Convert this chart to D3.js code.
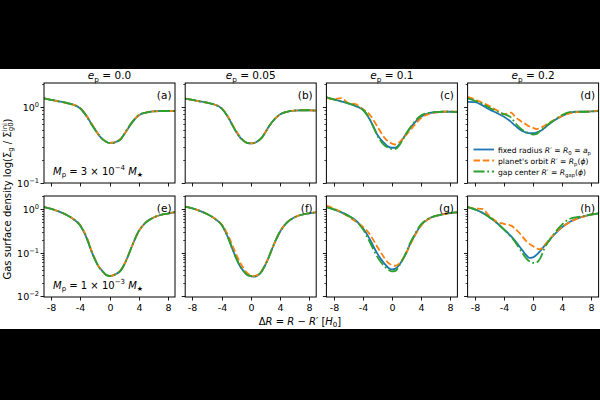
<!DOCTYPE html>
<html><head><meta charset="utf-8">
<script src="https://cdn.jsdelivr.net/npm/d3@7"></script>
<style>body{margin:0;background:#000} text{font-family:"DejaVu Sans",sans-serif;fill:#000}</style>
</head><body><svg id="c" width="600" height="400"></svg>
<script>
// ---- data ----
const xGrid = [-9,-8,-7,-6,-5,-4,-3,-2.5,-2,-1.5,-1,-0.5,0,0.5,1,1.5,2,2.5,3,4,5,6,7,8,9];
const eccLabels = ["0.0","0.05","0.1","0.2"];
const panelLabels = ["(a)","(b)","(c)","(d)","(e)","(f)","(g)","(h)"];
const seriesNames = ["fixed radius","planet's orbit","gap center"];
const xTicks = [-8,-4,0,4,8];
const xTickLabels = ["-8","-4","0","4","8"];
const massMant = ["3","1"];
const massExp = ["\u22124","\u22123"];

const fixedA = [1.29,1.23,1.18,1.13,1.07,0.95,0.72,0.6,0.51,0.43,0.38,0.35,0.335,0.335,0.35,0.37,0.43,0.51,0.6,0.77,0.84,0.87,0.88,0.88,0.88];
const orbitA = [1.29,1.23,1.18,1.12,1.07,0.96,0.73,0.61,0.51,0.43,0.38,0.35,0.335,0.34,0.35,0.38,0.43,0.51,0.61,0.77,0.84,0.87,0.88,0.88,0.88];
const gapA   = [1.29,1.23,1.18,1.13,1.06,0.95,0.71,0.59,0.5,0.43,0.38,0.35,0.335,0.335,0.35,0.37,0.44,0.52,0.61,0.78,0.84,0.87,0.88,0.88,0.88];

const fixedB = [1.28,1.23,1.18,1.13,1.07,0.95,0.7,0.57,0.47,0.4,0.36,0.335,0.33,0.335,0.355,0.39,0.46,0.55,0.64,0.79,0.86,0.89,0.9,0.9,0.89];
const orbitB = [1.28,1.23,1.18,1.13,1.07,0.96,0.71,0.58,0.48,0.41,0.36,0.335,0.33,0.335,0.355,0.39,0.46,0.55,0.64,0.79,0.86,0.89,0.9,0.9,0.89];
const gapB   = [1.28,1.23,1.18,1.13,1.07,0.95,0.7,0.57,0.47,0.4,0.36,0.335,0.33,0.335,0.355,0.39,0.46,0.55,0.64,0.79,0.86,0.89,0.9,0.9,0.89];

const fixedC = [1.33,1.25,1.18,1.11,1.02,0.91,0.67,0.54,0.43,0.37,0.33,0.3,0.29,0.29,0.32,0.38,0.45,0.52,0.6,0.74,0.82,0.85,0.86,0.86,0.85];
const orbitC = [1.33,1.25,1.3,1.12,1.08,0.93,0.78,0.66,0.55,0.46,0.39,0.35,0.33,0.32,0.34,0.38,0.43,0.49,0.56,0.71,0.8,0.84,0.86,0.87,0.86];
const gapC   = [1.33,1.25,1.18,1.11,1.03,0.92,0.68,0.53,0.42,0.35,0.31,0.29,0.28,0.28,0.31,0.37,0.45,0.53,0.62,0.77,0.83,0.85,0.86,0.86,0.85];

const fixedD = [1.16,1.15,1.05,0.92,0.83,0.74,0.63,0.57,0.52,0.48,0.46,0.45,0.45,0.46,0.48,0.52,0.57,0.62,0.67,0.76,0.83,0.86,0.86,0.87,0.88];
const orbitD = [1.35,1.25,1.13,1.02,0.9,0.8,0.84,0.74,0.68,0.63,0.59,0.55,0.53,0.51,0.53,0.56,0.6,0.64,0.68,0.76,0.82,0.85,0.86,0.87,0.89];
const gapD   = [1.29,1.2,1.1,0.97,0.87,0.8,0.72,0.62,0.55,0.5,0.47,0.45,0.43,0.44,0.49,0.53,0.58,0.63,0.68,0.78,0.85,0.86,0.86,0.87,0.88];

const fixedE = [1.13,1.03,0.9,0.76,0.6,0.42,0.19,0.11,0.07,0.048,0.038,0.031,0.029,0.03,0.033,0.038,0.052,0.08,0.13,0.31,0.5,0.64,0.74,0.8,0.86];
const orbitE = [1.13,1.03,0.9,0.76,0.6,0.43,0.2,0.115,0.072,0.049,0.038,0.031,0.029,0.03,0.033,0.039,0.053,0.08,0.13,0.31,0.5,0.64,0.74,0.8,0.86];
const gapE   = [1.13,1.03,0.9,0.76,0.6,0.42,0.19,0.11,0.07,0.048,0.038,0.031,0.029,0.03,0.033,0.038,0.052,0.08,0.13,0.31,0.5,0.64,0.74,0.8,0.86];

const fixedF = [1.15,1.05,0.92,0.78,0.62,0.44,0.2,0.12,0.075,0.05,0.038,0.031,0.029,0.028,0.03,0.037,0.052,0.08,0.13,0.3,0.5,0.65,0.75,0.81,0.85];
const orbitF = [1.15,1.05,0.92,0.78,0.62,0.45,0.23,0.145,0.092,0.061,0.044,0.034,0.03,0.029,0.031,0.038,0.053,0.08,0.13,0.3,0.5,0.65,0.75,0.81,0.85];
const gapF   = [1.15,1.05,0.92,0.78,0.62,0.44,0.2,0.12,0.075,0.05,0.038,0.031,0.029,0.028,0.03,0.037,0.052,0.08,0.13,0.3,0.5,0.65,0.75,0.81,0.85];

const fixedG = [1.13,1.0,0.86,0.72,0.56,0.37,0.2,0.135,0.095,0.071,0.055,0.045,0.041,0.043,0.052,0.07,0.1,0.16,0.23,0.43,0.6,0.7,0.77,0.82,0.85];
const orbitG = [1.22,1.05,0.86,0.68,0.53,0.4,0.26,0.19,0.135,0.1,0.074,0.058,0.052,0.05,0.056,0.072,0.1,0.15,0.22,0.42,0.59,0.7,0.77,0.82,0.85];
const gapG   = [1.13,1.0,0.86,0.71,0.55,0.35,0.17,0.115,0.08,0.06,0.048,0.041,0.037,0.038,0.05,0.07,0.105,0.165,0.24,0.45,0.61,0.71,0.77,0.82,0.85];

const fixedH = [1.13,1.0,0.84,0.66,0.49,0.345,0.237,0.19,0.148,0.115,0.09,0.076,0.078,0.09,0.11,0.14,0.176,0.22,0.27,0.39,0.51,0.61,0.69,0.76,0.81];
const orbitH = [1.13,1.05,1.02,0.7,0.52,0.46,0.42,0.36,0.3,0.24,0.19,0.16,0.14,0.125,0.12,0.145,0.18,0.23,0.28,0.39,0.5,0.6,0.69,0.76,0.81];
const gapH   = [1.13,1.0,0.84,0.66,0.49,0.34,0.23,0.18,0.135,0.1,0.076,0.063,0.058,0.06,0.075,0.12,0.17,0.22,0.29,0.45,0.6,0.66,0.7,0.76,0.81];

const panelSeries = [
  [fixedA,orbitA,gapA],[fixedB,orbitB,gapB],[fixedC,orbitC,gapC],[fixedD,orbitD,gapD],
  [fixedE,orbitE,gapE],[fixedF,orbitF,gapF],[fixedG,orbitG,gapG],[fixedH,orbitH,gapH]
];

// ---- layout / style ----
const colors = ["#1f77b4","#ff7f0e","#2ca02c"];
const dashes = [null,"6.5,2.8","11,2.8,1.8,2.8"];
const lw = 1.8;
const axW = 131, axGap = 10.2, axLeft0 = 44;
const rows = [
  {top:83, bottom:183, domain:[0.1,2.05]},
  {top:196, bottom:297, domain:[0.0095,2.03]}
];

const svg = d3.select("#c");
svg.append("rect").attr("width",600).attr("height",400).attr("fill","#000");
svg.append("rect").attr("y",69).attr("width",600).attr("height",260).attr("fill","#fff");

// rich text helper
function rich(sel, parts){
  let shift = 0;
  parts.forEach(p=>{
    const o = p[1]||{};
    const target = o.sub ? (o.subShift||3) : o.sup ? -(o.supShift||4) : 0;
    const ts = sel.append("tspan").text(p[0]);
    if (target!==shift) ts.attr("dy", target-shift);
    shift = target;
    if (o.it) ts.attr("font-style","italic");
    if (o.size) ts.attr("font-size", o.size);
    else if (o.sub||o.sup) ts.attr("font-size", (o.base||10)*0.7);
    if (o.dx!=null) ts.attr("dx", o.dx);
  });
  return sel;
}

const x = d3.scaleLinear().domain([-9,9]);

for (let r=0;r<2;r++){
  const row = rows[r];
  const y = d3.scaleLog().domain(row.domain).range([row.bottom,row.top]);
  for (let c=0;c<4;c++){
    const idx = r*4+c;
    const left = axLeft0 + c*(axW+axGap);
    x.range([left,left+axW]);
    const g = svg.append("g");
    const clipId = "clip"+idx;
    svg.append("clipPath").attr("id",clipId).append("rect")
      .attr("x",left).attr("y",row.top).attr("width",axW).attr("height",row.bottom-row.top);

    // lines
    const line = d3.line().x(d=>x(d[0])).y(d=>y(d[1])).curve(d3.curveMonotoneX);
    panelSeries[idx].forEach((vals,s)=>{
      const pts = xGrid.map((xv,i)=>[xv,vals[i]]);
      g.append("path").attr("d",line(pts)).attr("fill","none")
        .attr("stroke",colors[s]).attr("stroke-width",lw)
        .attr("stroke-dasharray",dashes[s]).attr("clip-path",`url(#${clipId})`);
    });

    // frame
    g.append("rect").attr("x",left).attr("y",row.top).attr("width",axW)
      .attr("height",row.bottom-row.top).attr("fill","none").attr("stroke","#000").attr("stroke-width",1);

    // x ticks
    xTicks.forEach((t,i)=>{
      const px = Math.round(x(t))+0.5;
      g.append("line").attr("x1",px).attr("x2",px).attr("y1",row.bottom).attr("y2",row.bottom+3.5)
        .attr("stroke","#000").attr("stroke-width",0.9);
      if (r===1){
        g.append("text").attr("x",px).attr("y",row.bottom+14).attr("text-anchor","middle")
          .attr("font-size",9.5).text(xTickLabels[i]);
      }
    });

    // y ticks (log major + minor)
    const [lo,hi] = row.domain;
    for (let e=-3;e<=1;e++){
      for (let k=1;k<=9;k++){
        const v = k*Math.pow(10,e);
        if (v<lo*0.999 || v>hi*1.001) continue;
        const py = Math.round(y(v))+0.5;
        const len = k===1?3.5:2;
        g.append("line").attr("x1",left-len).attr("x2",left).attr("y1",py).attr("y2",py)
          .attr("stroke","#000").attr("stroke-width",k===1?0.9:0.7);
        if (k===1 && c===0){
          const t = g.append("text").attr("x",left-5).attr("y",py+3.5).attr("text-anchor","end").attr("font-size",9.5);
          rich(t,[["10"],[e===0?"0":"\u2212"+(-e),{sup:true,base:9.5,supShift:4}]]);
        }
      }
    }

    // panel label
    g.append("text").attr("x",left+axW-3.5).attr("y",row.top+15.5).attr("text-anchor","end")
      .attr("font-size",10.5).text(panelLabels[idx]);

    // column titles
    if (r===0){
      const t = g.append("text").attr("x",left+axW/2).attr("y",79).attr("text-anchor","middle").attr("font-size",10.5);
      rich(t,[["e",{it:true}],["p",{sub:true,base:10.5,subShift:2.5}],[" = "+eccLabels[c]]]);
    }
    // mass labels
    if (c===0){
      const t = g.append("text").attr("x",left+9).attr("y",row.bottom-8.5).attr("font-size",10);
      rich(t,[["M",{it:true}],["p",{sub:true,base:10,subShift:2.5}],[" = "+massMant[r]+" \u00d7 10"],
        [massExp[r],{sup:true,base:10,supShift:4.5}],[" "],["M",{it:true}],["\u2605",{sub:true,base:10,subShift:2.5}]]);
    }
    // legend in (d)
    if (idx===3){
      const fs = 7.6;
      const legTexts = [
        [["fixed radius "],["R",{it:true}],["\u2032 = "],["R",{it:true}],["0",{sub:true,base:fs,subShift:2}],[" = "],["a",{it:true}],["p",{sub:true,base:fs,subShift:2}]],
        [["planet's orbit "],["R",{it:true}],["\u2032 = "],["R",{it:true}],["p",{sub:true,base:fs,subShift:2}],["("],["\u03d5",{it:true}],[")"]],
        [["gap center "],["R",{it:true}],["\u2032 = "],["R",{it:true}],["gap",{sub:true,base:fs,subShift:2}],["("],["\u03d5",{it:true}],[")"]]
      ];
      const legY = [149.5,160.5,171.5];
      seriesNames.forEach((nm,s)=>{
        g.append("line").attr("x1",473.5).attr("x2",494).attr("y1",legY[s]).attr("y2",legY[s])
          .attr("stroke",colors[s]).attr("stroke-width",lw).attr("stroke-dasharray",dashes[s]);
        const t = g.append("text").attr("x",498).attr("y",legY[s]+3).attr("font-size",fs);
        rich(t,legTexts[s]);
      });
    }
  }
}

// x label
{
  const t = svg.append("text").attr("x",300).attr("y",324.5).attr("text-anchor","middle").attr("font-size",10);
  rich(t,[["\u0394"],["R",{it:true}],[" = "],["R",{it:true}],[" \u2212 "],["R",{it:true}],["\u2032 ["],["H",{it:true}],["0",{sub:true,base:10,subShift:2.5}],["]"]]);
}
// y label
{
  const t = svg.append("text").attr("transform","translate(10.5,199) rotate(-90)").attr("text-anchor","middle").attr("font-size",10);
  rich(t,[["Gas surface density log(\u03a3"],["g",{sub:true,base:10,subShift:2.5}],[" / \u03a3"],
    ["ini",{sup:true,base:10,supShift:4}],["g0",{sub:true,base:10,subShift:2.5,dx:-8.3}],[")"]]);
}
</script></body></html>
